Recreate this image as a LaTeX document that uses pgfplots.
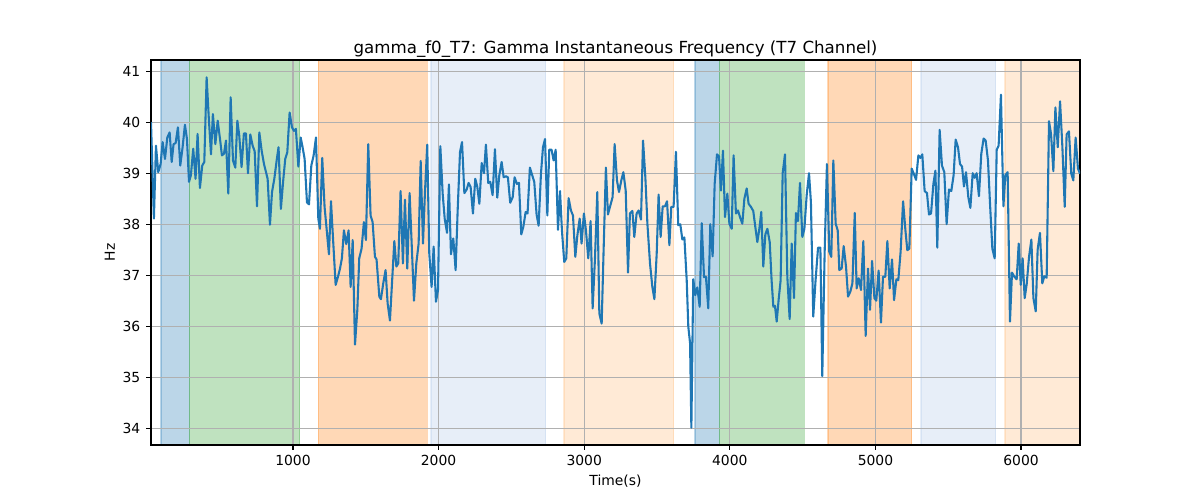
\documentclass[border=0pt]{standalone}
\usepackage{fontspec}
\setmainfont{DejaVu Sans}
\usepackage{pgfplots}
\pgfplotsset{compat=1.18}
\definecolor{mblue}{HTML}{1F77B4}
\definecolor{mgreen}{HTML}{2CA02C}
\definecolor{morange}{HTML}{FF7F0E}
\definecolor{mlblue}{HTML}{AEC7E8}
\definecolor{mlorange}{HTML}{FFBB78}
\definecolor{gridgray}{HTML}{B0B0B0}
\pgfplotsset{
  span/.style={on layer=axis background, fill=#1, fill opacity=0.3, draw=#1, draw opacity=0.3, line width=1pt, forget plot}
}
\begin{document}
\begin{tikzpicture}
\begin{axis}[
  set layers=standard,
  anchor=south west, at={(0,0)},
  scale only axis, width=668.88pt, height=277.2pt,
  xmin=25, xmax=6405, ymin=33.67, ymax=41.22,
  xtick={1000,2000,3000,4000,5000,6000},
  ytick={34,35,36,37,38,39,40,41},
  grid=major,
  major grid style={color=gridgray, line width=0.8pt},
  tick align=outside, tick pos=left,
  major tick length=3.5pt,
  every tick/.style={black, line width=0.8pt},
  axis line style={black, line width=0.8pt},
  /pgf/number format/assume math mode=true,
  /pgf/number format/1000 sep={},
  ticklabel style={font=\fontsize{10}{12}\selectfont},
  xticklabel style={anchor=base, yshift=-11.3pt},
  yticklabel style={anchor=east, xshift=-0.7pt},
  title={gamma\_f0\_T7: Gamma Instantaneous Frequency (T7 Channel)},
  title style={font=\fontsize{12}{14}\selectfont, at={(axis description cs:0.5,1)}, anchor=base, yshift=-1pt},
  xlabel={Time(s)},
  xlabel style={font=\fontsize{10}{12}\selectfont, at={(axis description cs:0.5,0)}, anchor=base, yshift=-29.3pt},
  ylabel={Hz},
  ylabel style={font=\fontsize{10}{12}\selectfont, at={(axis description cs:0,0.5)}, anchor=base, rotate=0, yshift=26pt},
]
\addplot[span=mblue] coordinates {(93,33.67)(288,33.67)(288,41.22)(93,41.22)} -- cycle;
\addplot[span=mgreen] coordinates {(288,33.67)(1046,33.67)(1046,41.22)(288,41.22)} -- cycle;
\addplot[span=morange] coordinates {(1174,33.67)(1922,33.67)(1922,41.22)(1174,41.22)} -- cycle;
\addplot[span=mlblue] coordinates {(1948,33.67)(2735,33.67)(2735,41.22)(1948,41.22)} -- cycle;
\addplot[span=mlorange] coordinates {(2861,33.67)(3615,33.67)(3615,41.22)(2861,41.22)} -- cycle;
\addplot[span=mblue] coordinates {(3761,33.67)(3928,33.67)(3928,41.22)(3761,41.22)} -- cycle;
\addplot[span=mgreen] coordinates {(3928,33.67)(4512,33.67)(4512,41.22)(3928,41.22)} -- cycle;
\addplot[span=morange] coordinates {(4675,33.67)(5249,33.67)(5249,41.22)(4675,41.22)} -- cycle;
\addplot[span=mlblue] coordinates {(5313,33.67)(5826,33.67)(5826,41.22)(5313,41.22)} -- cycle;
\addplot[span=mlorange] coordinates {(5890,33.67)(6405,33.67)(6405,41.22)(5890,41.22)} -- cycle;
\addplot[color=mblue, line width=1.5pt, line join=round] table {
x y
25 40.00
45 38.11
59 39.54
75 39.02
91 39.18
105 39.61
121 39.28
137 39.70
153 39.80
167 39.22
180 39.57
194 39.59
210 39.90
226 39.15
242 39.51
258 39.95
272 39.67
286 38.83
299 38.96
315 39.48
331 38.89
345 39.77
361 38.71
377 39.15
391 39.22
407 40.88
421 40.13
437 39.37
450 40.16
467 39.57
483 40.03
499 39.67
512 39.35
526 39.38
540 39.64
556 38.60
572 40.49
588 39.25
604 39.11
618 40.03
631 39.74
647 39.12
663 39.78
677 39.78
691 39.00
707 39.76
723 39.54
737 39.43
753 38.35
769 39.80
785 39.44
801 39.18
826 38.89
842 37.99
856 38.63
872 38.89
888 39.25
901 39.51
917 38.30
933 38.86
947 39.28
961 39.41
977 40.19
993 39.90
1007 39.83
1020 39.87
1037 39.13
1053 39.70
1066 39.51
1080 39.28
1096 38.43
1110 38.39
1126 39.15
1142 39.35
1158 39.70
1174 38.11
1185 37.91
1201 39.30
1217 38.34
1231 37.91
1247 37.41
1261 38.45
1277 37.62
1293 36.81
1309 36.97
1323 37.13
1336 37.33
1350 37.88
1366 37.61
1382 37.88
1396 36.77
1410 37.69
1426 35.64
1442 36.32
1455 37.33
1471 37.52
1487 38.04
1501 37.69
1517 39.57
1533 38.17
1547 38.04
1563 37.36
1574 37.31
1593 36.58
1604 36.53
1620 36.84
1636 37.10
1650 36.45
1666 36.11
1680 36.84
1696 37.67
1710 37.17
1723 37.23
1739 38.65
1755 37.23
1769 38.48
1785 37.13
1801 38.61
1817 37.49
1831 36.50
1847 37.23
1863 37.62
1877 39.24
1893 37.62
1906 38.60
1922 39.56
1936 37.43
1952 36.77
1966 37.56
1982 36.48
1996 36.71
2012 39.53
2028 38.60
2042 38.11
2058 37.83
2071 38.78
2085 37.41
2101 37.72
2117 37.10
2131 38.27
2147 39.41
2161 39.61
2177 38.61
2193 38.68
2206 38.81
2220 38.73
2236 38.21
2252 38.89
2266 38.73
2280 38.40
2296 39.20
2312 39.00
2325 39.56
2341 38.81
2355 38.83
2371 38.57
2387 39.47
2403 38.52
2417 38.96
2433 39.22
2447 38.92
2463 38.94
2476 38.92
2492 38.42
2509 38.53
2522 38.92
2538 38.79
2552 38.81
2568 37.80
2582 37.95
2598 38.24
2611 38.21
2627 39.11
2643 38.96
2657 38.83
2673 38.19
2687 37.97
2703 38.99
2717 39.51
2731 39.67
2747 38.17
2760 39.46
2776 39.46
2790 39.25
2804 39.46
2820 37.89
2834 38.65
2847 37.88
2863 37.26
2877 37.33
2893 38.51
2909 38.27
2923 38.17
2939 37.36
2953 37.78
2969 38.11
2982 37.62
2998 38.21
3012 37.88
3028 37.33
3044 38.06
3058 36.35
3074 37.33
3090 38.63
3104 36.25
3120 36.05
3133 37.46
3149 39.11
3163 38.19
3177 38.34
3195 38.53
3209 39.57
3225 38.86
3239 38.63
3255 38.86
3269 39.02
3285 38.66
3301 37.05
3314 38.21
3331 38.26
3344 37.75
3360 38.21
3374 38.27
3390 38.09
3404 39.64
3420 38.92
3434 38.01
3452 37.23
3468 36.77
3482 36.53
3498 37.43
3511 38.58
3525 37.75
3539 38.35
3555 38.35
3569 38.45
3585 37.59
3598 38.34
3614 38.34
3630 39.42
3646 37.98
3660 38.00
3674 37.70
3688 37.74
3704 36.90
3715 35.99
3727 35.67
3736 34.01
3749 36.92
3763 36.61
3777 36.76
3793 36.38
3807 38.02
3823 36.96
3836 36.97
3852 36.35
3866 38.00
3882 37.37
3896 38.79
3912 39.37
3926 39.33
3939 38.66
3953 39.44
3967 38.14
3983 38.60
3997 38.01
4013 37.91
4026 39.35
4042 38.21
4056 38.27
4070 38.14
4086 38.01
4100 38.50
4116 38.70
4129 38.40
4145 38.34
4161 38.26
4175 37.95
4189 37.65
4203 37.91
4216 38.24
4230 37.17
4244 37.80
4258 37.91
4274 37.65
4287 36.90
4299 36.38
4310 36.40
4322 36.09
4335 36.51
4349 36.90
4363 39.00
4379 39.37
4395 36.97
4411 36.14
4425 37.62
4441 36.55
4454 38.22
4468 38.06
4482 38.81
4498 37.75
4512 37.91
4528 38.57
4544 39.00
4557 38.43
4573 36.19
4589 36.90
4606 37.54
4622 37.54
4635 35.02
4651 37.41
4667 39.18
4683 37.46
4697 37.36
4711 39.25
4727 38.01
4741 37.88
4752 37.10
4768 37.13
4782 37.57
4798 37.17
4812 36.58
4828 36.68
4842 36.84
4858 38.22
4871 36.74
4885 36.94
4901 36.71
4917 37.67
4933 35.81
4949 37.13
4963 36.32
4977 37.28
4993 36.55
5006 36.50
5022 37.09
5038 36.07
5052 36.97
5068 36.97
5082 37.67
5098 36.74
5114 37.31
5128 36.51
5144 36.92
5157 36.90
5173 37.46
5190 38.45
5206 37.88
5219 37.49
5233 37.52
5249 39.09
5265 38.98
5279 38.87
5295 39.35
5309 39.30
5322 39.37
5338 38.65
5354 38.61
5368 38.19
5382 38.21
5398 38.79
5412 39.05
5425 37.54
5441 39.85
5457 39.15
5473 39.02
5489 38.00
5505 38.68
5521 38.65
5537 38.96
5551 39.66
5567 39.51
5581 39.18
5595 39.13
5608 38.74
5622 39.02
5638 38.53
5652 38.32
5668 39.00
5682 38.91
5695 39.00
5711 38.55
5727 39.38
5743 39.68
5757 39.64
5773 39.25
5787 38.40
5803 37.52
5819 37.33
5833 39.46
5846 39.54
5862 40.54
5879 38.35
5892 38.96
5908 39.02
5924 36.09
5938 37.05
5954 36.97
5970 36.92
5984 37.62
5998 36.81
6011 37.33
6025 36.55
6039 36.83
6055 37.36
6071 37.70
6085 36.55
6101 36.29
6114 37.50
6130 37.83
6146 36.84
6160 36.98
6176 36.95
6192 40.02
6206 39.77
6222 39.04
6236 40.29
6252 39.51
6268 40.41
6284 39.51
6300 38.34
6313 39.76
6329 39.82
6345 38.99
6359 38.86
6375 39.70
6391 39.09
6405 38.99
};
\end{axis}
\path (-108.72pt,-39.6pt) rectangle ++(864pt,360pt);
\end{tikzpicture}
\end{document}
